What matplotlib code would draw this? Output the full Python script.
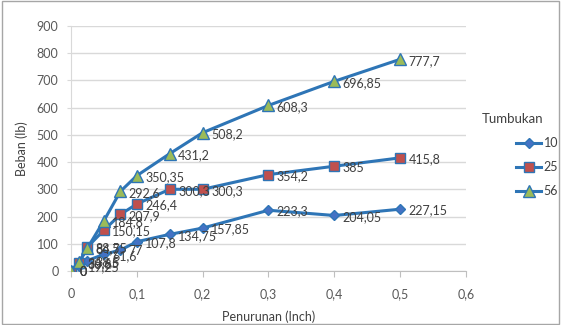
import matplotlib
matplotlib.use("Agg")
import matplotlib.pyplot as plt
from matplotlib.patches import Rectangle

# Penetration (inch) and load (lb) for each number of blows
penurunan = [0, 0.0125, 0.025, 0.05, 0.075, 0.1, 0.15, 0.2, 0.3, 0.4, 0.5]
beban_10 = [0, 19.25, 38.5, 61.6, 77, 107.8, 134.75, 157.85, 223.3, 204.05, 227.15]
beban_25 = [0, 30.8, 88.55, 150.15, 207.9, 246.4, 300.3, 300.3, 354.2, 385, 415.8]
beban_56 = [0, 34.65, 84.7, 184.8, 292.6, 350.35, 431.2, 508.2, 608.3, 696.85, 777.7]
series_names = ["10", "25", "56"]

x_ticks = [0, 0.1, 0.2, 0.3, 0.4, 0.5, 0.6]
y_ticks = [0, 100, 200, 300, 400, 500, 600, 700, 800, 900]

plt.rcParams['font.family'] = ['Lato', 'DejaVu Sans']

line_col = '#2E75B6'
text_col = '#404040'

fig = plt.figure(figsize=(5.61, 3.25), dpi=100)
ax = fig.add_axes([0.1266, 0.166, 0.704, 0.754])

styles = [
    dict(marker='D', markersize=5.5, markerfacecolor='#4472C4'),
    dict(marker='s', markersize=7, markerfacecolor='#C0504D'),
    dict(marker='^', markersize=8, markerfacecolor='#9BBB59'),
]

for name, ys, st in zip(series_names, [beban_10, beban_25, beban_56], styles):
    ax.plot(penurunan, ys, color=line_col, linewidth=2.2,
            markeredgecolor=line_col, markeredgewidth=1.0, label=name,
            zorder=3, **st)
    # data labels to the right of each point
    for xv, yv in zip(penurunan, ys):
        txt = f"{yv:g}".replace('.', ',')
        ax.annotate(txt, (xv, yv), xytext=(6, -1), textcoords='offset points',
                    ha='left', va='center', fontsize=9, color=text_col, zorder=4)

ax.set_xlim(0, 0.6)
ax.set_ylim(0, 900)
ax.set_xticks(x_ticks)
ax.set_xticklabels([f"{t:g}".replace('.', ',') for t in x_ticks])
ax.set_yticks(y_ticks)

ax.grid(True, axis='y', color='#D9D9D9', linewidth=1.0, zorder=0)
ax.set_axisbelow(True)
for s in ['top', 'right']:
    ax.spines[s].set_visible(False)
ax.spines['left'].set_color('#D9D9D9')
ax.spines['bottom'].set_color('#BFBFBF')
ax.tick_params(axis='x', length=4, color='#BFBFBF', labelsize=9,
               labelcolor='#595959', pad=8)
ax.tick_params(axis='y', length=3, color='#D9D9D9', labelsize=9,
               labelcolor='#595959', pad=6)

ax.set_xlabel('Penurunan (Inch)', fontsize=9, color=text_col, labelpad=8)
ax.set_ylabel('Beban (lb)', fontsize=9, color=text_col, labelpad=6)

# legend title drawn separately, offset left of the entries as in the reference
fig.text(482 / 561, 1 - 119 / 325, 'Tumbukan', fontsize=9.5, color=text_col,
         ha='left', va='center')
leg = ax.legend(loc='upper left', bbox_to_anchor=(510 / 561, 1 - 131 / 325),
                bbox_transform=fig.transFigure, frameon=False,
                fontsize=9, handlelength=2.0, labelspacing=0.95,
                handletextpad=0.2, borderpad=0)
plt.setp(leg.get_texts(), color=text_col)

# chart area border
fig.patches.append(Rectangle((0.003, 0.004), 0.994, 0.992, transform=fig.transFigure,
                             fill=False, edgecolor='#A6A6A6', linewidth=1.0))

fig.savefig('out.png', dpi=100)
